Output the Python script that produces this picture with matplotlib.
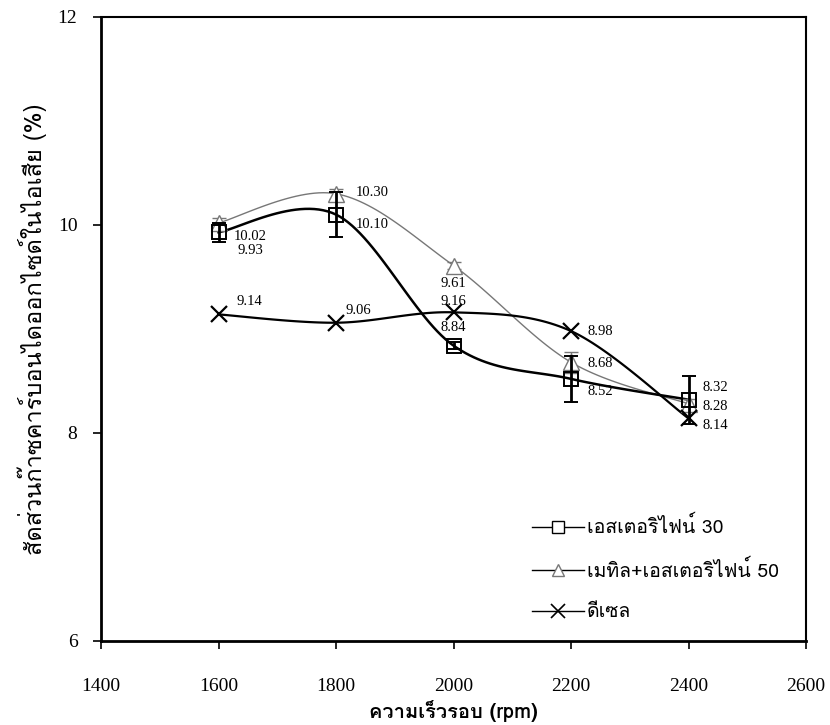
import matplotlib
matplotlib.use('Agg')
import matplotlib.pyplot as plt
import numpy as np
from matplotlib import font_manager
from matplotlib.ft2font import FT2Font
from matplotlib.lines import Line2D


def find_thai_font():
    # pick any installed family that actually has Thai glyphs
    for f in font_manager.fontManager.ttflist:
        try:
            cmap = FT2Font(f.fname).get_charmap()
        except Exception:
            continue
        if 0x0E2A in cmap and 0x0E40 in cmap and 0x0E47 in cmap:
            return f.name
    return None


thai = find_thai_font()
serif = ['Liberation Serif', 'DejaVu Serif']
thai_fam = ([thai] if thai else []) + ['Liberation Serif', 'DejaVu Sans']
plt.rcParams['font.family'] = serif

# data
rpm = [1600, 1800, 2000, 2200, 2400]
co2_est30 = [9.93, 10.10, 8.84, 8.52, 8.32]
err_est30 = [0.09, 0.22, 0.03, 0.22, 0.23]
co2_me50 = [10.02, 10.30, 9.61, 8.68, 8.28]
err_me50 = [0.05, 0.05, 0.03, 0.10, 0.05]
co2_diesel = [9.14, 9.06, 9.16, 8.98, 8.14]
series_names = ['เอสเตอริไฟน์ 30', 'เมทิล+เอสเตอริไฟน์ 50', 'ดีเซล']

# label offsets in points (dx, dy)
off_est30 = [(23, -13), (26, -7), (0, 13), (21, -9), (19, 9)]
off_me50 = [(23, -10), (26, 1), (0, -13), (21, -1), (19, -2)]
off_diesel = [(22, 9), (16, 9), (0, 8), (21, 0), (19, -5)]


def smooth(x, y, n=30):
    # Catmull-Rom style bezier through every point
    p = np.column_stack([x, y]).astype(float)
    pts = np.vstack([p[0], p, p[-1]])
    out = []
    for i in range(1, len(pts) - 2):
        p0, p1, p2, p3 = pts[i - 1], pts[i], pts[i + 1], pts[i + 2]
        c1 = p1 + (p2 - p0) / 6.0
        c2 = p2 - (p3 - p1) / 6.0
        t = np.linspace(0, 1, n)[:, None]
        seg = ((1 - t) ** 3) * p1 + 3 * ((1 - t) ** 2) * t * c1 \
            + 3 * (1 - t) * t ** 2 * c2 + t ** 3 * p2
        out.append(seg if i == 1 else seg[1:])
    s = np.vstack(out)
    return s[:, 0], s[:, 1]


fig = plt.figure(figsize=(8.3, 7.25), dpi=100)
ax = fig.add_axes([0.1217, 0.1159, 0.8494, 0.8607])

gray = '#777777'

# smoothed lines
sx, sy = smooth(rpm, co2_me50)
ax.plot(sx, sy, color=gray, lw=1.0, zorder=2)
sx, sy = smooth(rpm, co2_est30)
ax.plot(sx, sy, color='black', lw=1.8, zorder=3)
sx, sy = smooth(rpm, co2_diesel)
ax.plot(sx, sy, color='black', lw=1.6, zorder=3)

# markers + error bars
ax.errorbar(rpm, co2_me50, yerr=err_me50, fmt='^', ms=11, mfc='white', mec=gray,
            mew=1.0, ecolor=gray, elinewidth=1.0, capsize=5, zorder=4)
ax.errorbar(rpm, co2_est30, yerr=err_est30, fmt='s', ms=10, mfc='none', mec='black',
            mew=1.4, ecolor='black', elinewidth=2.0, capsize=5, capthick=2, zorder=5)
ax.plot(rpm, co2_diesel, 'x', ms=12, mew=1.6, color='black', zorder=5)

# value labels
for vals, offs in [(co2_est30, off_est30), (co2_me50, off_me50), (co2_diesel, off_diesel)]:
    for x, v, (dx, dy) in zip(rpm, vals, offs):
        ax.annotate(f'{v:.2f}', (x, v), xytext=(dx, dy), textcoords='offset points',
                    ha='center', va='center', fontsize=10.5, color='black')

ax.set_xlim(1400, 2600)
ax.set_ylim(6, 12)
ax.set_xticks(range(1400, 2601, 200))
ax.set_yticks([6, 8, 10, 12])
ax.tick_params(direction='out', length=6, width=1.2, labelsize=14)
ax.tick_params(axis='x', pad=21)
ax.tick_params(axis='y', pad=11)
for side in ['left', 'bottom']:
    ax.spines[side].set_linewidth(2.0)
for side in ['top', 'right']:
    ax.spines[side].set_linewidth(1.5)

ax.set_xlabel('ความเร็วรอบ (rpm)', family=thai_fam, fontsize=14.5, fontweight='bold')
ax.xaxis.set_label_coords(0.5, -0.112)
ax.xaxis.label.set_va('center')
ax.set_ylabel('สัดส่วนก๊าซคาร์บอนไดออกไซด์ในไอเสีย (%)', family=thai_fam, fontsize=17, labelpad=8)

handles = [
    Line2D([], [], color='black', lw=1.0, marker='s', ms=9, mfc='white', mec='black', mew=1.0),
    Line2D([], [], color='black', lw=1.0, marker='^', ms=9, mfc='white', mec=gray, mew=1.0),
    Line2D([], [], color='black', lw=1.0, marker='x', ms=10, mew=1.2),
]
ax.legend(handles, series_names, loc='upper left', bbox_to_anchor=(0.586, 0.228),
          frameon=False, handlelength=2.7, handletextpad=0.15, labelspacing=1.15,
          prop={'family': thai_fam, 'size': 14})

fig.savefig('out.png', dpi=100)
